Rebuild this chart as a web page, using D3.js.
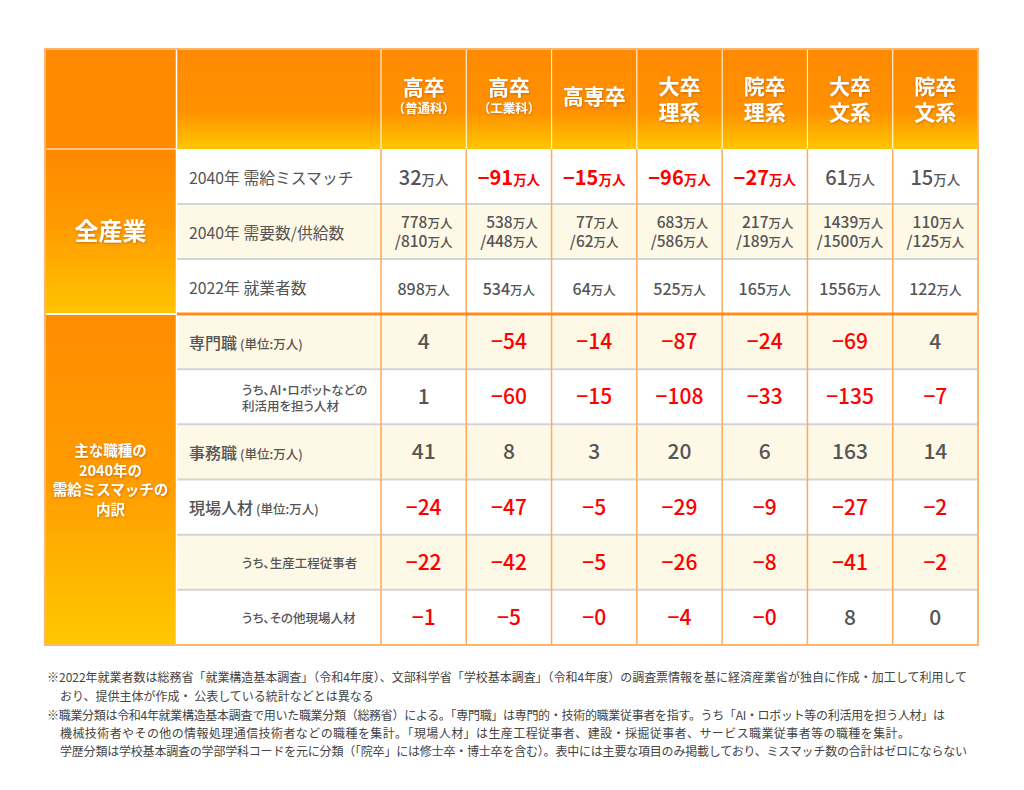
<!DOCTYPE html>
<html>
<head>
<meta charset="utf-8">
<script src="https://cdn.jsdelivr.net/npm/d3@7"></script>
<style>
body { margin: 0; background: #fff; }
svg { display: block; font-family: "Noto Sans CJK JP", "Noto Sans", sans-serif; }
.palt { font-feature-settings: "palt" 1; }
</style>
</head>
<body>
<div id="chart"></div>
<script>
var colTitle = [["高卒"], ["高卒"], ["高専卒"], ["大卒", "理系"], ["院卒", "理系"], ["大卒", "文系"], ["院卒", "文系"]];
var colNote = ["（普通科）", "（工業科）", "", "", "", "", ""];

var topLabels = ["2040年 需給ミスマッチ", "2040年 需要数/供給数", "2022年 就業者数"];
var mismatch2040 = [32, -91, -15, -96, -27, 61, 15];
var demand2040 = [778, 538, 77, 683, 217, 1439, 110];
var supply2040 = [810, 448, 62, 586, 189, 1500, 125];
var workers2022 = [898, 534, 64, 525, 165, 1556, 122];

var jobLabels = [["専門職"], ["うち、AI・ロボットなどの", "利活用を担う人材"], ["事務職"], ["現場人材"], ["うち、生産工程従事者"], ["うち、その他現場人材"]];
var jobIsSub = [false, true, false, false, true, true];
var jobSpecialist = [4, -54, -14, -87, -24, -69, 4];
var jobAiRobot = [1, -60, -15, -108, -33, -135, -7];
var jobClerical = [41, 8, 3, 20, 6, 163, 14];
var jobField = [-24, -47, -5, -29, -9, -27, -2];
var jobProduction = [-22, -42, -5, -26, -8, -41, -2];
var jobOtherField = [-1, -5, -0, -4, -0, 8, 0];
var jobRows = [jobSpecialist, jobAiRobot, jobClerical, jobField, jobProduction, jobOtherField];

var catLabels = ["全産業", ["主な職種の", "2040年の", "需給ミスマッチの", "内訳"]];

var notes = [
  "※2022年就業者数は総務省「就業構造基本調査」（令和4年度）、文部科学省「学校基本調査」（令和4年度）の調査票情報を基に経済産業省が独自に作成・加工して利用して",
  "おり、提供主体が作成・ 公表している統計などとは異なる",
  "※職業分類は令和4年就業構造基本調査で用いた職業分類（総務省）による。「専門職」は専門的・技術的職業従事者を指す。うち「AI・ロボット等の利活用を担う人材」は",
  "機械技術者やその他の情報処理通信技術者などの職種を集計。「現場人材」は生産工程従事者、建設・採掘従事者、サービス職業従事者等の職種を集計。",
  "学歴分類は学校基本調査の学部学科コードを元に分類（「院卒」には修士卒・博士卒を含む）。表中には主要な項目のみ掲載しており、ミスマッチ数の合計はゼロにならない"
];

// ---- layout ----
var width = 1024, height = 790;
var L = 45, R = 978, T = 49, HB = 149, MID = 314, B = 645, C0 = 176, C1 = 381;
var gray = "#555", red = "#ff0000";

var x = d3.scaleBand().domain(d3.range(7)).range([C1, R]);
var yTop = d3.scaleBand().domain(d3.range(3)).range([HB, MID]);
var yJob = d3.scaleBand().domain(d3.range(6)).range([MID, B]);

function isNeg(v) { return v < 0 || Object.is(v, -0); }
function fmt(v) { return isNeg(v) ? "−" + Math.abs(v) : String(v); }

var svg = d3.select("#chart").append("svg")
  .attr("width", width)
  .attr("height", height);

var defs = svg.append("defs");
function grad(id, stops) {
  var g = defs.append("linearGradient").attr("id", id)
    .attr("x1", 0).attr("y1", 0).attr("x2", 0).attr("y2", 1);
  stops.forEach(function (s) {
    g.append("stop").attr("offset", s[0]).attr("stop-color", s[1]);
  });
}
grad("gHead", [[0, "#ff8a00"], [0.62, "#ff9100"], [1, "#ffc600"]]);
grad("gCat1", [[0, "#ff8800"], [0.45, "#ff9a00"], [1, "#ffc400"]]);
grad("gCat2", [[0, "#ff8c00"], [0.5, "#ff9c00"], [1, "#ffc800"]]);

defs.append("filter").attr("id", "shadow")
  .attr("x", "-10%").attr("y", "-20%").attr("width", "130%").attr("height", "150%")
  .append("feDropShadow")
  .attr("dx", 0.6).attr("dy", 1)
  .attr("stdDeviation", 0.8)
  .attr("flood-color", "#a04a00")
  .attr("flood-opacity", 0.55);

// backgrounds
svg.append("rect").attr("x", C0).attr("y", T).attr("width", R - C0).attr("height", HB - T).attr("fill", "url(#gHead)");
svg.append("rect").attr("x", L).attr("y", T).attr("width", C0 - L).attr("height", HB - T).attr("fill", "#ff8a00");
svg.append("rect").attr("x", L).attr("y", HB).attr("width", C0 - L).attr("height", MID - HB).attr("fill", "url(#gCat1)");
svg.append("rect").attr("x", L).attr("y", MID).attr("width", C0 - L).attr("height", B - MID).attr("fill", "url(#gCat2)");

svg.selectAll(".bgTop").data(d3.range(3)).enter().append("rect")
  .attr("x", C0).attr("y", function (d) { return yTop(d); })
  .attr("width", R - C0).attr("height", yTop.bandwidth())
  .attr("fill", function (d) { return d % 2 ? "#fef8e6" : "#fff"; });

svg.selectAll(".bgJob").data(d3.range(6)).enter().append("rect")
  .attr("x", C0).attr("y", function (d) { return yJob(d); })
  .attr("width", R - C0).attr("height", yJob.bandwidth())
  .attr("fill", function (d) { return d % 2 ? "#fff" : "#fef8e6"; });

// grid lines
var rowLines = [yTop(1), yTop(2)].concat(d3.range(1, 6).map(function (i) { return yJob(i); }));
svg.selectAll(".hline").data(rowLines).enter().append("line")
  .attr("x1", C0 + 1).attr("x2", R)
  .attr("y1", function (d) { return d; }).attr("y2", function (d) { return d; })
  .attr("stroke", "#d4d4d4").attr("stroke-width", 2);

var colLines = [C1].concat(d3.range(1, 7).map(function (i) { return x(i); }));
svg.selectAll(".vline").data(colLines).enter().append("line")
  .attr("x1", function (d) { return d; }).attr("x2", function (d) { return d; })
  .attr("y1", HB).attr("y2", B)
  .attr("stroke", "#ffaa5a").attr("stroke-width", 1.5);

svg.selectAll(".hvline").data(colLines).enter().append("line")
  .attr("x1", function (d) { return d; }).attr("x2", function (d) { return d; })
  .attr("y1", T).attr("y2", HB)
  .attr("stroke", "rgba(255,255,255,0.85)").attr("stroke-width", 1.2);

svg.append("line").attr("x1", C0 + 0.5).attr("x2", C0 + 0.5).attr("y1", T).attr("y2", B)
  .attr("stroke", "#fff").attr("stroke-width", 1.5);
svg.append("line").attr("x1", L).attr("x2", C0).attr("y1", HB).attr("y2", HB)
  .attr("stroke", "#ffd9a6").attr("stroke-width", 1.5);
svg.append("line").attr("x1", L).attr("x2", C0).attr("y1", MID).attr("y2", MID)
  .attr("stroke", "#fff").attr("stroke-width", 2);
svg.append("line").attr("x1", C0 + 1).attr("x2", R).attr("y1", MID).attr("y2", MID)
  .attr("stroke", "#ff8c1a").attr("stroke-width", 3);

svg.append("rect").attr("x", L).attr("y", T).attr("width", R - L).attr("height", B - T)
  .attr("fill", "none").attr("stroke", "#fbb571").attr("stroke-width", 2);

// header titles
var head = svg.selectAll(".head").data(d3.range(7)).enter().append("g")
  .attr("transform", function (d) { return "translate(" + (x(d) + x.bandwidth() / 2) + ",0)"; })
  .attr("filter", "url(#shadow)")
  .attr("fill", "#fff").attr("text-anchor", "middle").attr("font-weight", "bold");

head.each(function (d) {
  var g = d3.select(this);
  var t = colTitle[d];
  if (colNote[d]) {
    g.append("text").attr("y", 95).attr("font-size", 21).text(t[0]);
    g.append("text").attr("y", 113).attr("font-size", 12.5).text(colNote[d]);
  } else if (t.length === 1) {
    g.append("text").attr("y", 104).attr("font-size", 21).text(t[0]);
  } else {
    var tx = g.append("text").attr("font-size", 21);
    tx.append("tspan").attr("x", 0).attr("y", 94).text(t[0]);
    tx.append("tspan").attr("x", 0).attr("y", 120).text(t[1]);
  }
});

// category column
var cx0 = (L + C0) / 2;
svg.append("text").attr("x", cx0).attr("y", (HB + MID) / 2 + 8.5)
  .attr("text-anchor", "middle").attr("font-size", 24).attr("font-weight", "bold")
  .attr("fill", "#fff").attr("filter", "url(#shadow)").text(catLabels[0]);

svg.append("text").attr("filter", "url(#shadow)")
  .attr("text-anchor", "middle").attr("font-size", 14.5).attr("font-weight", "bold")
  .attr("fill", "#fff")
  .selectAll("tspan").data(catLabels[1]).enter().append("tspan")
  .attr("x", cx0)
  .attr("y", function (d, i) { return (MID + B) / 2 - 23.5 + i * 19.5; })
  .text(function (d) { return d; });

// top row labels
svg.selectAll(".topLab").data(topLabels).enter().append("text")
  .attr("x", 189)
  .attr("y", function (d, i) { return yTop(i) + yTop.bandwidth() / 2 + 7.5; })
  .attr("font-size", 15.8).attr("fill", gray)
  .text(function (d) { return d; });

// value with 万人 unit
function unitText(sel, v, numSize, unitSize) {
  sel.append("tspan").attr("font-size", numSize).text(fmt(v));
  sel.append("tspan").attr("font-size", unitSize).text("万人");
  sel.attr("fill", isNeg(v) ? red : gray)
    .attr("font-weight", isNeg(v) ? "bold" : 500);
}

var cc = function (i) { return x(i) + x.bandwidth() / 2; };

// row 1: mismatch
svg.selectAll(".r1").data(mismatch2040).enter().append("text")
  .attr("x", function (d, i) { return cc(i); })
  .attr("y", yTop(0) + yTop.bandwidth() / 2 + 8)
  .attr("text-anchor", "middle")
  .each(function (d) { unitText(d3.select(this), d, 20, 13.5); });

// row 2: demand / supply, right aligned block in one text
d3.range(7).forEach(function (i) {
  var c = yTop(1) + yTop.bandwidth() / 2;
  var t = svg.append("text").attr("text-anchor", "end");
  var a = t.append("tspan").attr("y", c - 3.5);
  unitText(a, demand2040[i], 15.5, 12.5);
  var b = t.append("tspan").attr("y", c + 15.5);
  b.append("tspan").attr("font-size", 15.5).text("/");
  unitText(b, supply2040[i], 15.5, 12.5);
  var w = Math.max(a.node().getComputedTextLength(), b.node().getComputedTextLength());
  a.attr("x", cc(i) + w / 2);
  b.attr("x", cc(i) + w / 2);
});

// row 3: workers 2022
svg.selectAll(".r3").data(workers2022).enter().append("text")
  .attr("x", function (d, i) { return cc(i); })
  .attr("y", yTop(2) + yTop.bandwidth() / 2 + 8.5)
  .attr("text-anchor", "middle")
  .each(function (d) { unitText(d3.select(this), d, 16, 12.5); });

// job labels
jobLabels.forEach(function (lab, r) {
  var c = yJob(r) + yJob.bandwidth() / 2;
  if (!jobIsSub[r]) {
    var t = svg.append("text").attr("x", 189).attr("y", c + 7).attr("fill", gray).attr("font-weight", 500);
    t.append("tspan").attr("font-size", 16).text(lab[0]);
    t.append("tspan").attr("font-size", 12.5).attr("dx", 3).text("(単位:万人)");
  } else {
    svg.append("text").attr("class", "palt")
      .attr("fill", gray).attr("font-weight", 500).attr("font-size", 12.5)
      .selectAll("tspan").data(lab).enter().append("tspan")
      .attr("x", 242)
      .attr("y", function (s, k) { return lab.length === 1 ? c + 5.5 : c - 2 + k * 16; })
      .text(function (s) { return s; });
  }
});

// job values
jobRows.forEach(function (vals, r) {
  svg.selectAll(".jv" + r).data(vals).enter().append("text")
    .attr("x", function (d, i) { return cc(i); })
    .attr("y", yJob(r) + yJob.bandwidth() / 2 + 7.5)
    .attr("text-anchor", "middle")
    .attr("font-size", 21)
    .attr("font-weight", 500)
    .attr("fill", function (d) { return isNeg(d) ? red : gray; })
    .text(function (d) { return fmt(d); });
});

// notes
var noteX = [47, 60, 47, 60, 60];
var noteY = [682, 700.5, 720, 738, 756];
var noteW = [920, 0, 898, 850, 907];
svg.selectAll(".note").data(notes).enter().append("text")
  .attr("x", function (d, i) { return noteX[i]; })
  .attr("y", function (d, i) { return noteY[i]; })
  .attr("font-size", 12).attr("fill", "#444")
  .each(function (d, i) {
    if (noteW[i]) d3.select(this).attr("textLength", noteW[i]).attr("lengthAdjust", "spacing");
  })
  .text(function (d) { return d; });
</script>
</body>
</html>
